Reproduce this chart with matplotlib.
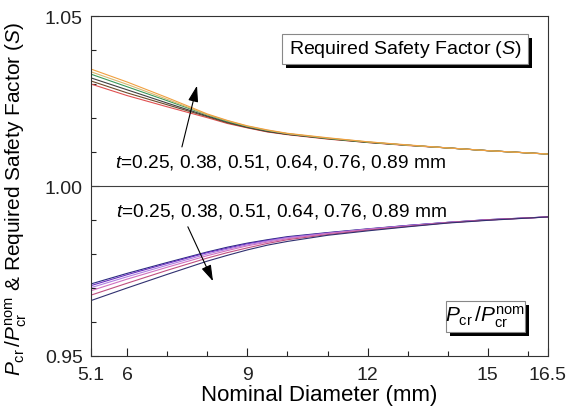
import matplotlib
matplotlib.use("Agg")
from matplotlib import pyplot as plt
from matplotlib.patches import Rectangle

plt.rcParams['font.family'] = ['Liberation Sans', 'DejaVu Sans']
plt.rcParams['mathtext.fontset'] = 'custom'
plt.rcParams['mathtext.rm'] = 'Liberation Sans'
plt.rcParams['mathtext.it'] = 'Liberation Sans:italic'

diameter = [5.1, 6, 7, 8, 8.5, 9, 9.5, 10, 11, 12, 13, 14, 15, 16.5]
thickness = ['0.25', '0.38', '0.51', '0.64', '0.76', '0.89']

# required safety factor S, one list per thickness
s_025 = [1.0300, 1.0266, 1.0233, 1.0201, 1.0184, 1.0171, 1.0159, 1.0151, 1.0138, 1.0128, 1.0119, 1.0112, 1.0104, 1.0094]
s_038 = [1.0309, 1.0274, 1.0239, 1.0204, 1.0186, 1.0172, 1.0160, 1.0152, 1.0139, 1.0128, 1.0120, 1.0112, 1.0104, 1.0094]
s_051 = [1.0318, 1.0283, 1.0244, 1.0206, 1.0188, 1.0173, 1.0161, 1.0152, 1.0140, 1.0129, 1.0120, 1.0112, 1.0104, 1.0094]
s_064 = [1.0329, 1.0292, 1.0251, 1.0209, 1.0190, 1.0175, 1.0163, 1.0154, 1.0140, 1.0129, 1.0120, 1.0112, 1.0104, 1.0094]
s_076 = [1.0336, 1.0299, 1.0255, 1.0210, 1.0192, 1.0176, 1.0164, 1.0154, 1.0141, 1.0130, 1.0120, 1.0112, 1.0104, 1.0094]
s_089 = [1.0344, 1.0306, 1.0260, 1.0212, 1.0193, 1.0177, 1.0165, 1.0155, 1.0142, 1.0130, 1.0121, 1.0112, 1.0104, 1.0094]

# Pcr / Pcr_nom, one list per thickness
p_025 = [0.9712, 0.9743, 0.9775, 0.9806, 0.9820, 0.9832, 0.9842, 0.9851, 0.9863, 0.9874, 0.9884, 0.9893, 0.9901, 0.9909]
p_038 = [0.9707, 0.9739, 0.9772, 0.9804, 0.9817, 0.9830, 0.9840, 0.9849, 0.9862, 0.9873, 0.9884, 0.9893, 0.9901, 0.9909]
p_051 = [0.9701, 0.9733, 0.9767, 0.9800, 0.9814, 0.9827, 0.9838, 0.9848, 0.9861, 0.9873, 0.9883, 0.9893, 0.9900, 0.9909]
p_064 = [0.9692, 0.9726, 0.9761, 0.9795, 0.9810, 0.9824, 0.9835, 0.9845, 0.9860, 0.9872, 0.9882, 0.9892, 0.9900, 0.9909]
p_076 = [0.9679, 0.9714, 0.9752, 0.9788, 0.9804, 0.9818, 0.9831, 0.9842, 0.9857, 0.9870, 0.9881, 0.9892, 0.9900, 0.9909]
p_089 = [0.9663, 0.9700, 0.9740, 0.9779, 0.9796, 0.9812, 0.9826, 0.9837, 0.9855, 0.9868, 0.9880, 0.9891, 0.9899, 0.9909]

s_curves = [s_025, s_038, s_051, s_064, s_076, s_089]
p_curves = [p_025, p_038, p_051, p_064, p_076, p_089]

s_colors = ['#e05050', '#6b4a2a', '#404040', '#3a9a5a', '#d8b870', '#f0a040']
p_colors = ['#2a2a80', '#6a30c0', '#b080e0', '#d070c0', '#c05080', '#303070']

fig = plt.figure(figsize=(5.7, 4.14), dpi=100)
ax = fig.add_axes([0.1596, 0.1377, 0.8018, 0.8212])

for vals, c in zip(s_curves, s_colors):
    ax.plot(diameter, vals, color=c, lw=0.8)
for vals, c in zip(p_curves, p_colors):
    ax.plot(diameter, vals, color=c, lw=0.8)

ax.axhline(1.0, color='#404040', lw=0.8)

ax.set_xlim(5.1, 16.5)
ax.set_ylim(0.95, 1.05)
ax.set_xticks([5.1, 6, 9, 12, 15, 16.5])
ax.set_xticklabels(['5.1', '6', '9', '12', '15', '16.5'])
ax.set_xticks([7, 8, 10, 11, 13, 14, 16], minor=True)
ax.set_yticks([0.95, 1.00, 1.05])
ax.set_yticklabels(['0.95', '1.00', '1.05'])
ax.set_yticks([0.96, 0.97, 0.98, 0.99, 1.01, 1.02, 1.03, 1.04], minor=True)
ax.tick_params(which='both', direction='in', top=False, right=False, labelsize=14, colors='#222222')
ax.tick_params(which='major', length=6, width=0.8)
ax.tick_params(which='minor', length=3.5, width=0.8)
ax.tick_params(axis='x', which='major', pad=7)
ax.tick_params(axis='y', which='major', pad=6)
for sp in ax.spines.values():
    sp.set_linewidth(0.8)
    sp.set_color('#333333')

ax.set_xlabel('Nominal Diameter (mm)', fontsize=16, labelpad=1)
ax.set_ylabel(r'$P_\mathregular{cr}\,/P_\mathregular{cr}^\mathregular{nom}$ & Required Safety Factor ($S$)',
              fontsize=15)
ax.yaxis.set_label_coords(-0.135, 0.465)

ax.text(0.053, 0.571, r'$t$=0.25, 0.38, 0.51, 0.64, 0.76, 0.89 mm', transform=ax.transAxes,
        fontsize=13.8, va='center', ha='left')
ax.text(0.055, 0.428, r'$t$=0.25, 0.38, 0.51, 0.64, 0.76, 0.89 mm', transform=ax.transAxes,
        fontsize=13.8, va='center', ha='left')

arrow = dict(arrowstyle='-|>,head_length=0.7,head_width=0.22', color='black', lw=0.8,
             mutation_scale=14, shrinkA=0, shrinkB=0)
ax.annotate('', xy=(0.232, 0.795), xytext=(0.199, 0.615), xycoords='axes fraction', arrowprops=arrow)
ax.annotate('', xy=(0.267, 0.22), xytext=(0.212, 0.38), xycoords='axes fraction', arrowprops=arrow)


def framed_label(x0, y0, w, h, text, fs):
    # box with a black drop shadow, figure pixel coordinates
    W, H = 570.0, 414.0
    shadow = Rectangle(((x0 + 4) / W, 1 - (y0 + h + 4) / H), w / W, h / H,
                       transform=fig.transFigure, facecolor='black', edgecolor='none', zorder=5)
    box = Rectangle((x0 / W, 1 - (y0 + h) / H), w / W, h / H,
                    transform=fig.transFigure, facecolor='white', edgecolor='#888888', lw=0.8, zorder=6)
    fig.patches.extend([shadow, box])
    fig.text((x0 + w / 2) / W, 1 - (y0 + h / 2) / H, text, ha='center', va='center',
             fontsize=fs, zorder=7)


framed_label(282, 35, 246, 30, r'Required Safety Factor ($S$)', 14)
framed_label(446, 302, 79, 31, r'$P_\mathregular{cr}\,/P_\mathregular{cr}^\mathregular{nom}$', 15)

fig.savefig('out.png', dpi=100)
